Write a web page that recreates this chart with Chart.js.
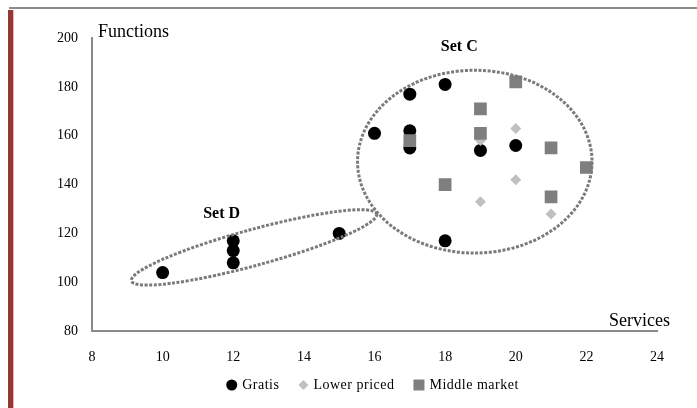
<!DOCTYPE html>
<html>
<head>
<meta charset="utf-8">
<script src="https://cdn.jsdelivr.net/npm/chart.js@4.4.1/dist/chart.umd.min.js"></script>
<style>
  html, body { margin: 0; padding: 0; background: #fff; }
  #wrap { position: relative; width: 697px; height: 408px; }
  #topLine { position: absolute; left: 9px; top: 7px; width: 688px; height: 2px; background: #8c8c8c; }
  #redBar { position: absolute; left: 8px; top: 10px; width: 5px; height: 398px; background: #953735; border-right: 1px solid #e6b8b7; }
  canvas { position: absolute; left: 0; top: 0; }
</style>
</head>
<body>
<div id="wrap">
  <canvas id="scatterChart" width="697" height="408"></canvas>
  <div id="topLine"></div>
  <div id="redBar"></div>
</div>
<script>
// values
const gratisServices = [10, 12, 12, 12, 15, 16, 17, 17, 17, 18, 18, 19, 20];
const gratisFunctions = [104, 108, 113, 117, 120, 161, 177, 162, 155, 181, 117, 154, 156];
const lowerServices = [19, 19, 20, 20, 21];
const lowerFunctions = [158, 133, 163, 142, 128];
const middleServices = [17, 18, 19, 19, 20, 21, 21, 22];
const middleFunctions = [158, 140, 171, 161, 182, 155, 135, 147];
const seriesNames = ['Gratis', 'Lower priced', 'Middle market'];
const xTicks = [8, 10, 12, 14, 16, 18, 20, 22, 24];
const yTicks = [80, 100, 120, 140, 160, 180, 200];

const toPoints = (xs, ys) => xs.map((x, i) => ({ x: x, y: ys[i] }));

// dashed ellipses and labels drawn over the plot
const setShapes = {
  C: { cx: 18.84, cy: 149.4, rx: 3.32, ry: 37.4 },
  D: { x1: 9.12, y1: 100.6, x2: 16.06, y2: 128.0, halfWidth: 18 }
};
const setLabels = [
  { text: 'Set C', x: 18.4, y: 196.5 },
  { text: 'Set D', x: 11.67, y: 128 }
];

const serif = '"Liberation Serif"';

const drawMarker = (ctx, style, x, y, r) => {
  ctx.beginPath();
  if (style === 'circle') {
    ctx.arc(x, y, r, 0, Math.PI * 2);
  } else if (style === 'rectRot') {
    ctx.moveTo(x, y - r); ctx.lineTo(x + r, y); ctx.lineTo(x, y + r); ctx.lineTo(x - r, y);
    ctx.closePath();
  } else {
    ctx.rect(x - r, y - r, 2 * r, 2 * r);
  }
  ctx.fill();
};

const overlayPlugin = {
  id: 'overlay',
  afterDatasetsDraw(chart) {
    const ctx = chart.ctx;
    const xs = chart.scales.x, ys = chart.scales.y;
    ctx.save();
    ctx.strokeStyle = '#7a7a7a';
    ctx.lineWidth = 3;
    ctx.setLineDash([3, 1.6]);

    const c = setShapes.C;
    const cx = xs.getPixelForValue(c.cx), cy = ys.getPixelForValue(c.cy);
    const rx = xs.getPixelForValue(c.cx + c.rx) - cx;
    const ry = cy - ys.getPixelForValue(c.cy + c.ry);
    ctx.beginPath();
    ctx.ellipse(cx, cy, rx, ry, 0, 0, Math.PI * 2);
    ctx.stroke();

    const d = setShapes.D;
    const ax = xs.getPixelForValue(d.x1), ay = ys.getPixelForValue(d.y1);
    const bx = xs.getPixelForValue(d.x2), by = ys.getPixelForValue(d.y2);
    ctx.beginPath();
    ctx.ellipse((ax + bx) / 2, (ay + by) / 2, Math.hypot(bx - ax, by - ay) / 2, d.halfWidth,
      Math.atan2(by - ay, bx - ax), 0, Math.PI * 2);
    ctx.stroke();
    ctx.setLineDash([]);

    ctx.fillStyle = '#000';
    ctx.font = 'bold 16px ' + serif;
    ctx.textAlign = 'center';
    ctx.textBaseline = 'middle';
    setLabels.forEach((l) => {
      ctx.fillText(l.text, xs.getPixelForValue(l.x), ys.getPixelForValue(l.y));
    });

    const area = chart.chartArea;
    ctx.font = '18px ' + serif;
    ctx.textBaseline = 'alphabetic';
    ctx.textAlign = 'left';
    ctx.fillText('Functions', area.left + 6, area.top - 1);
    ctx.textAlign = 'right';
    ctx.fillText('Services', area.right + 13, area.bottom - 5);

    // legend under the axis, centred on the plot area
    ctx.font = '14px ' + serif;
    ctx.letterSpacing = '0.5px';
    ctx.textAlign = 'left';
    ctx.textBaseline = 'middle';
    const items = chart.data.datasets.map((ds) => ({
      text: ds.label, style: ds.pointStyle, color: ds.backgroundColor,
      r: ds.pointStyle === 'rectRot' ? 5 : 5.5,
      w: ctx.measureText(ds.label).width
    }));
    const gap = 19, markGap = 5;
    const total = items.reduce((s, it) => s + it.r * 2 + markGap + it.w, 0) + gap * (items.length - 1);
    let lx = (area.left + area.right) / 2 - 2 - total / 2;
    const ly = 385;
    items.forEach((it) => {
      ctx.fillStyle = it.color;
      drawMarker(ctx, it.style, lx + it.r, ly, it.r);
      lx += it.r * 2 + markGap;
      ctx.fillStyle = '#000';
      ctx.fillText(it.text, lx, ly);
      lx += it.w + gap;
    });
    ctx.restore();
  }
};

const tickFont = { family: serif, size: 14 };

new Chart(document.getElementById('scatterChart'), {
  type: 'scatter',
  data: {
    datasets: [
      {
        label: seriesNames[0],
        data: toPoints(gratisServices, gratisFunctions),
        pointStyle: 'circle',
        pointRadius: 6.5,
        backgroundColor: '#000000',
        borderColor: '#000000',
        borderWidth: 0,
        order: 3
      },
      {
        label: seriesNames[1],
        data: toPoints(lowerServices, lowerFunctions),
        pointStyle: 'rectRot',
        pointRadius: 5.5,
        backgroundColor: '#c0c0c0',
        borderColor: '#c0c0c0',
        borderWidth: 0,
        order: 2
      },
      {
        label: seriesNames[2],
        data: toPoints(middleServices, middleFunctions),
        pointStyle: 'rect',
        pointRadius: 9,
        backgroundColor: '#7f7f7f',
        borderColor: '#7f7f7f',
        borderWidth: 0,
        order: 1
      }
    ]
  },
  options: {
    responsive: false,
    animation: false,
    layout: { padding: { left: 43, right: 40, top: 38, bottom: 24 } },
    plugins: {
      tooltip: { enabled: false },
      legend: { display: false }
    },
    scales: {
      x: {
        type: 'linear',
        min: xTicks[0],
        max: xTicks[xTicks.length - 1],
        afterBuildTicks: (axis) => { axis.ticks = xTicks.map((v) => ({ value: v })); },
        grid: { display: false, drawTicks: false },
        border: { display: true, color: '#8a8a8a', width: 2 },
        ticks: { color: '#000', font: tickFont, padding: 18 }
      },
      y: {
        type: 'linear',
        min: yTicks[0],
        max: yTicks[yTicks.length - 1],
        afterBuildTicks: (axis) => { axis.ticks = yTicks.map((v) => ({ value: v })); },
        grid: { display: false, drawTicks: false },
        border: { display: true, color: '#8a8a8a', width: 2 },
        ticks: { color: '#000', font: tickFont, padding: 14 }
      }
    }
  },
  plugins: [overlayPlugin]
});
</script>
</body>
</html>
